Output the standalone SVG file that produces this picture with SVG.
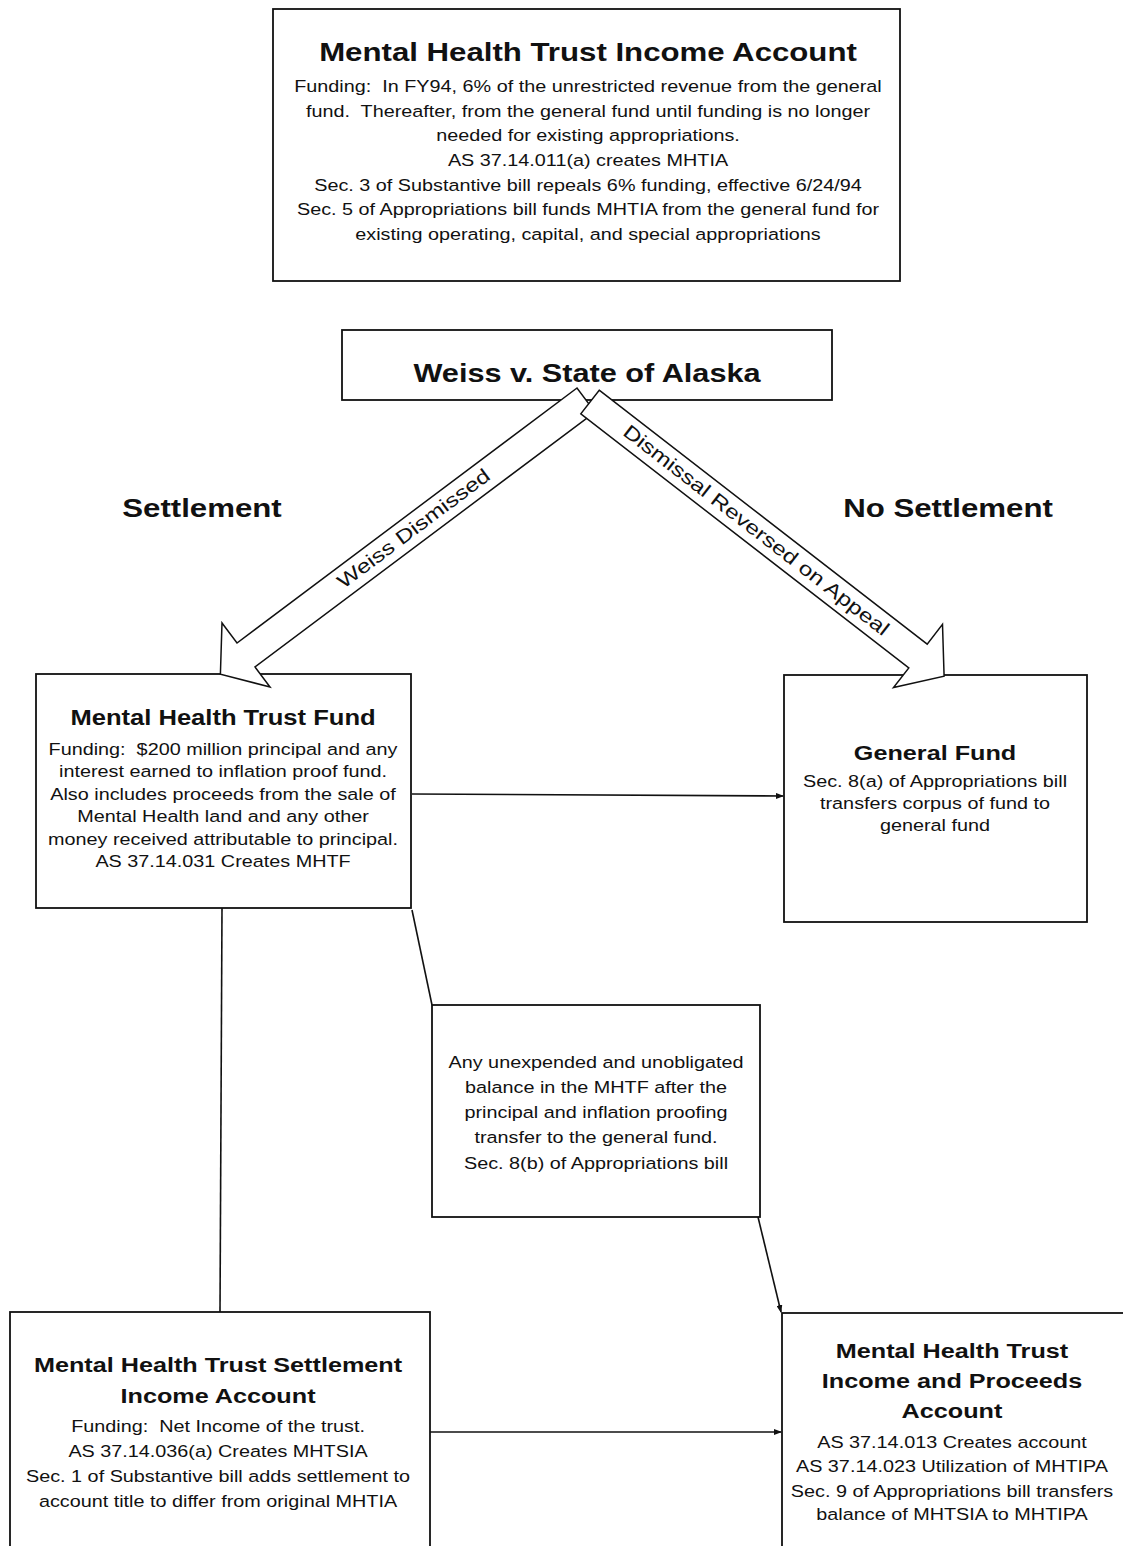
<svg xmlns="http://www.w3.org/2000/svg" width="1123" height="1546" viewBox="0 0 1123 1546">
<defs>
<style>
.box{fill:#fff;stroke:#111;stroke-width:1.8}
.t{font-family:"Liberation Sans",Arial,Helvetica,sans-serif;fill:#111;text-anchor:middle}
.h{font-weight:bold}
.b{font-size:16.5px}
.conn{fill:none;stroke:#111;stroke-width:1.6}
.arrow{fill:#fff;stroke:#111;stroke-width:1.5;stroke-linejoin:miter}
.lab{font-family:"Liberation Sans",Arial,Helvetica,sans-serif;fill:#111;text-anchor:middle;font-size:19.5px}
</style>
<marker id="ah" markerWidth="8" markerHeight="6" refX="7" refY="3" orient="auto" markerUnits="userSpaceOnUse"><path d="M0,0 L8,3 L0,6 z" fill="#111"/></marker>
</defs>
<rect width="1123" height="1546" fill="#fff"/>

<g id="mhtia">
<rect class="box" x="273" y="9" width="627" height="272"/>
<g transform="translate(588 0) scale(1.2 1)">
<text class="t h" x="0" y="61" font-size="26">Mental Health Trust Income Account</text>
<text class="t b" x="0" y="92">Funding:&#160; In FY94, 6% of the unrestricted revenue from the general</text>
<text class="t b" x="0" y="117">fund.&#160; Thereafter, from the general fund until funding is no longer</text>
<text class="t b" x="0" y="141">needed for existing appropriations.</text>
<text class="t b" x="0" y="166">AS 37.14.011(a) creates MHTIA</text>
<text class="t b" x="0" y="191">Sec. 3 of Substantive bill repeals 6% funding, effective 6/24/94</text>
<text class="t b" x="0" y="215">Sec. 5 of Appropriations bill funds MHTIA from the general fund for</text>
<text class="t b" x="0" y="240">existing operating, capital, and special appropriations</text>
</g>
</g>

<g id="weiss">
<rect class="box" x="342" y="330" width="490" height="70"/>
<g transform="translate(587 0) scale(1.18 1)">
<text class="t h" x="0" y="382" font-size="26">Weiss v. State of Alaska</text>
</g>
</g>

<g id="branch-labels">
<g transform="translate(202 0) scale(1.2 1)"><text class="t h" x="0" y="517" font-size="26">Settlement</text></g>
<g transform="translate(948 0) scale(1.2 1)"><text class="t h" x="0" y="517" font-size="26">No Settlement</text></g>
</g>

<g id="mhtf">
<rect class="box" x="36" y="674" width="375" height="234"/>
<g transform="translate(223 0) scale(1.2 1)">
<text class="t h" x="0" y="725" font-size="21.3">Mental Health Trust Fund</text>
<text class="t b" x="0" y="755">Funding:&#160; $200 million principal and any</text>
<text class="t b" x="0" y="777">interest earned to inflation proof fund.</text>
<text class="t b" x="0" y="800">Also includes proceeds from the sale of</text>
<text class="t b" x="0" y="822">Mental Health land and any other</text>
<text class="t b" x="0" y="845">money received attributable to principal.</text>
<text class="t b" x="0" y="867">AS 37.14.031 Creates MHTF</text>
</g>
</g>

<g id="general-fund">
<rect class="box" x="784" y="675" width="303" height="247"/>
<g transform="translate(935 0) scale(1.2 1)">
<text class="t h" x="0" y="760" font-size="21">General Fund</text>
<text class="t b" x="0" y="787">Sec. 8(a) of Appropriations bill</text>
<text class="t b" x="0" y="809">transfers corpus of fund to</text>
<text class="t b" x="0" y="831">general fund</text>
</g>
</g>

<g id="unexpended">
<rect class="box" x="432" y="1005" width="328" height="212"/>
<g transform="translate(596 0) scale(1.2 1)">
<text class="t b" x="0" y="1068">Any unexpended and unobligated</text>
<text class="t b" x="0" y="1093">balance in the MHTF after the</text>
<text class="t b" x="0" y="1118">principal and inflation proofing</text>
<text class="t b" x="0" y="1143">transfer to the general fund.</text>
<text class="t b" x="0" y="1169">Sec. 8(b) of Appropriations bill</text>
</g>
</g>

<g id="mhtsia">
<rect class="box" x="10" y="1312" width="420" height="260"/>
<g transform="translate(218 0) scale(1.2 1)">
<text class="t h" x="0" y="1372" font-size="21">Mental Health Trust Settlement</text>
<text class="t h" x="0" y="1403" font-size="21">Income Account</text>
<text class="t b" x="0" y="1432">Funding:&#160; Net Income of the trust.</text>
<text class="t b" x="0" y="1457">AS 37.14.036(a) Creates MHTSIA</text>
<text class="t b" x="0" y="1482">Sec. 1 of Substantive bill adds settlement to</text>
<text class="t b" x="0" y="1507">account title to differ from original MHTIA</text>
</g>
</g>

<g id="mhtipa">
<rect class="box" x="782" y="1313" width="360" height="260"/>
<g transform="translate(952 0) scale(1.2 1)">
<text class="t h" x="0" y="1358" font-size="21">Mental Health Trust</text>
<text class="t h" x="0" y="1388" font-size="21">Income and Proceeds</text>
<text class="t h" x="0" y="1418" font-size="21">Account</text>
<text class="t b" x="0" y="1448">AS 37.14.013 Creates account</text>
<text class="t b" x="0" y="1472">AS 37.14.023 Utilization of MHTIPA</text>
<text class="t b" x="0" y="1497">Sec. 9 of Appropriations bill transfers</text>
<text class="t b" x="0" y="1520">balance of MHTSIA to MHTIPA</text>
</g>
</g>

<g id="connectors">
<line class="conn" x1="412" y1="794" x2="783" y2="796" marker-end="url(#ah)"/>
<line class="conn" x1="412" y1="910" x2="432" y2="1005"/>
<line class="conn" x1="758" y1="1217" x2="781" y2="1312" marker-end="url(#ah)"/>
<line class="conn" x1="222" y1="908" x2="220" y2="1312"/>
<line class="conn" x1="430" y1="1432" x2="781" y2="1432" marker-end="url(#ah)"/>
<g id="arrow-settlement">
<polygon class="arrow" points="577,388 237,643 222,623 220.4,674.2 270,687 255,667 595,412"/>
<text class="lab" transform="translate(417.6 533.8) rotate(-36.87) scale(1.25 1)" x="0" y="0">Weiss Dismissed</text>
</g>
<g id="arrow-no-settlement">
<polygon class="arrow" points="599.2,390.2 927.2,644.2 942.5,624.4 944.1,676.2 893.5,687.6 908.8,667.9 580.8,413.9"/>
<text class="lab" transform="translate(752.2 535.4) rotate(37.8) scale(1.25 1)" x="0" y="0">Dismissal Reversed on Appeal</text>
</g>
</g>
</svg>
